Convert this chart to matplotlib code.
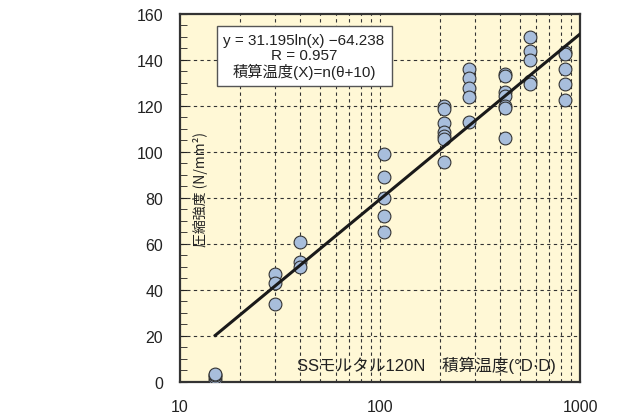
import numpy as np
import matplotlib.pyplot as plt
from matplotlib.ticker import FixedLocator, NullFormatter, MultipleLocator

plt.rcParams['font.family'] = ['Liberation Sans', 'Noto Sans CJK JP', 'DejaVu Sans']

# 積算温度 (°D·D) と圧縮強度 (N/mm2)
age_15 = [15, 15, 15, 15]
str_15 = [1.0, 2.0, 3.0, 3.5]
age_30 = [30, 30, 30]
str_30 = [47, 43, 34]
age_40 = [40, 40, 40]
str_40 = [61, 52, 50]
age_105 = [105, 105, 105, 105, 105]
str_105 = [99, 89, 80, 72, 65]
age_210 = [210, 210, 210, 210, 210, 210, 210]
str_210 = [120, 118.5, 112.5, 108.5, 107, 105.5, 95.5]
age_280 = [280, 280, 280, 280, 280]
str_280 = [136, 132, 128, 124, 113]
age_420 = [420, 420, 420, 420, 420, 420, 420]
str_420 = [134, 133, 126, 124.5, 120, 119, 106]
age_560 = [560, 560, 560, 560, 560]
str_560 = [150, 144, 140, 131, 129.5]
age_840 = [840, 840, 840, 840, 840]
str_840 = [143.5, 142.5, 136, 129.5, 122.5]

# 回帰式 y = a ln(x) + b
coef_a = 31.195
coef_b = -64.238
r_value = 0.957

x_all = age_15 + age_30 + age_40 + age_105 + age_210 + age_280 + age_420 + age_560 + age_840
y_all = str_15 + str_30 + str_40 + str_105 + str_210 + str_280 + str_420 + str_560 + str_840

fig = plt.figure(figsize=(6.24, 4.14), dpi=100)
ax = fig.add_axes([0.2885, 0.075, 0.641, 0.889])
ax.set_facecolor('#fff8d6')

ax.set_xscale('log')
ax.set_xlim(10, 1000)
ax.set_ylim(0, 160)

# グリッド（破線）
grid_x = [v * d for d in (10, 100) for v in range(2, 10)] + [100]
for gx in grid_x:
    ax.axvline(gx, color='#333333', lw=0.8, ls=(0, (3, 3)), zorder=1)
for gy in range(20, 160, 20):
    ax.axhline(gy, color='#333333', lw=0.8, ls=(0, (3, 3)), zorder=1)

ax.scatter(x_all, y_all, s=85, color='#a8bedc', edgecolor='#333333', linewidth=0.8, zorder=3)

xs = np.logspace(np.log10(15), np.log10(1000), 100)
ax.plot(xs, coef_a * np.log(xs) + coef_b, color='#1a1a1a', lw=2.2, zorder=4)

ax.xaxis.set_major_locator(FixedLocator([10, 100, 1000]))
ax.xaxis.set_minor_locator(FixedLocator(grid_x))
ax.xaxis.set_minor_formatter(NullFormatter())
ax.set_xticklabels(['10', '100', '1000'])
ax.yaxis.set_major_locator(MultipleLocator(20))
ax.yaxis.set_minor_locator(MultipleLocator(5))

ax.tick_params(axis='both', which='both', direction='in', labelsize=11.5, colors='#222222')
ax.tick_params(axis='y', which='both', pad=12, length=5, left=True, right=False)
ax.tick_params(axis='x', which='both', pad=12, length=0)
for sp in ax.spines.values():
    sp.set_linewidth(1.6)
    sp.set_color('#333333')

ax.text(0.052, 0.525, '圧縮強度 (N/mm²)', transform=ax.transAxes, rotation=90,
        ha='center', va='center', fontsize=10, color='#222222',
        family=['Noto Sans CJK JP', 'DejaVu Sans'])

eq_text = ('y = %.3fln(x) \u2212%.3f\nR = %.3f\n積算温度(X)=n(θ+10)'
           % (coef_a, -coef_b, r_value))
ax.text(0.31, 0.886, eq_text, transform=ax.transAxes, ha='center', va='center',
        fontsize=11, linespacing=1.1, color='#222222',
        family=['Liberation Sans', 'Noto Sans CJK JP'],
        bbox=dict(boxstyle='square,pad=0.45', fc='white', ec='#555555', lw=1.0), zorder=5)

ax.text(0.615, 0.048, 'SSモルタル120N\u3000積算温度(°D·D)', transform=ax.transAxes,
        ha='center', va='center', fontsize=12, color='#222222',
        family=['Liberation Sans', 'Noto Sans CJK JP'], zorder=5)

fig.savefig('out.png', dpi=100)
